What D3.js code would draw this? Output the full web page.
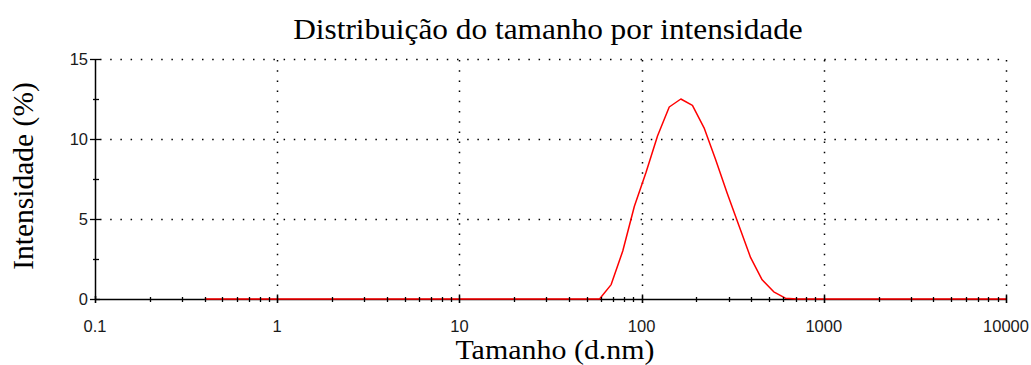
<!DOCTYPE html>
<html>
<head>
<meta charset="utf-8">
<script src="https://cdn.jsdelivr.net/npm/d3@7"></script>
<style>
  html, body { margin: 0; padding: 0; background: #fff; }
  svg { display: block; }
</style>
</head>
<body>
<svg id="chart" width="1031" height="365"></svg>
<script>
// Size classes (d.nm), 70 logarithmic bins from 0.4 to 10000
const sizes = [0.4, 0.4632, 0.5365, 0.6213, 0.7195, 0.8332, 0.9649, 1.117, 1.294, 1.499,
  1.736, 2.01, 2.328, 2.696, 3.122, 3.615, 4.187, 4.849, 5.615, 6.503,
  7.531, 8.721, 10.1, 11.7, 13.54, 15.69, 18.17, 21.04, 24.36, 28.21,
  32.67, 37.84, 43.82, 50.75, 58.77, 68.06, 78.82, 91.28, 105.7, 122.4,
  141.8, 164.2, 190.1, 220.2, 255.0, 295.3, 342.0, 396.1, 458.7, 531.2,
  615.1, 712.4, 825.0, 955.4, 1106, 1281, 1484, 1718, 1990, 2305,
  2669, 3091, 3580, 4145, 4801, 5560, 6439, 7456, 8635, 10000];

// Intensity (%) per size class
const intensity = [0, 0, 0, 0, 0, 0, 0, 0, 0, 0,
  0, 0, 0, 0, 0, 0, 0, 0, 0, 0,
  0, 0, 0, 0, 0, 0, 0, 0, 0, 0,
  0, 0, 0, 0, 0, 0.9, 3.0, 5.8, 7.9, 10.2,
  12.0, 12.5, 12.1, 10.7, 8.7, 6.6, 4.6, 2.6, 1.2, 0.45,
  0.05, 0, 0, 0, 0, 0, 0, 0, 0, 0,
  0, 0, 0, 0, 0, 0, 0, 0, 0, 0];

const xTicks = [0.1, 1, 10, 100, 1000, 10000];
const xTickLabels = ["0.1", "1", "10", "100", "1000", "10000"];
const yTicks = [0, 5, 10, 15];
const yMinorTicks = [2.5, 7.5, 12.5];

const chartTitle = "Distribuição do tamanho por intensidade";
const xTitle = "Tamanho (d.nm)";
const yTitle = "Intensidade (%)";

const svg = d3.select("#chart");
const plotLeft = 95, plotRight = 1006, plotTop = 59, plotBottom = 299;

const x = d3.scaleLog().domain([0.1, 10000]).range([plotLeft, plotRight]);
const y = d3.scaleLinear().domain([0, 15]).range([plotBottom, plotTop]);

// Minor log ticks (2..9 within each decade)
const xMinor = [];
for (let e = -1; e < 4; e++) {
  for (let m = 2; m <= 9; m++) xMinor.push(m * Math.pow(10, e));
}

const serif = "'Liberation Serif', 'Times New Roman', serif";
const sans = "'Liberation Sans', Arial, sans-serif";
const px = v => Math.round(v) + 0.5;

// Dotted grid
const grid = svg.append("g").attr("stroke", "#000").attr("stroke-width", 1.5)
  .attr("stroke-dasharray", "1.5,8.7").attr("fill", "none");
yTicks.filter(v => v > 0).forEach(v => {
  grid.append("line").attr("x1", plotLeft + 5).attr("x2", plotRight)
    .attr("y1", px(y(v))).attr("y2", px(y(v)));
});
xTicks.filter(v => v > 0.1).forEach(v => {
  grid.append("line").attr("x1", px(x(v))).attr("x2", px(x(v)))
    .attr("y1", plotTop + 1).attr("y2", plotBottom);
});

// Axis lines
svg.append("line").attr("x1", plotLeft + 0.5).attr("x2", plotLeft + 0.5)
  .attr("y1", plotTop).attr("y2", plotBottom + 1).attr("stroke", "#000").attr("stroke-width", 1.5);
svg.append("line").attr("x1", plotLeft).attr("x2", plotRight + 1)
  .attr("y1", plotBottom + 0.5).attr("y2", plotBottom + 0.5).attr("stroke", "#000").attr("stroke-width", 1.5);

// Distribution curve
const line = d3.line()
  .x((d, i) => x(sizes[i]))
  .y(d => y(d));
svg.append("path").datum(intensity)
  .attr("d", line)
  .attr("fill", "none")
  .attr("stroke", "#ff0000")
  .attr("stroke-width", 1.5)
  .attr("stroke-linejoin", "round");

// X axis ticks
const xt = svg.append("g").attr("stroke", "#000").attr("stroke-width", 1.3);
xMinor.forEach(v => {
  xt.append("line").attr("x1", px(x(v))).attr("x2", px(x(v)))
    .attr("y1", plotBottom - 2).attr("y2", plotBottom + 3);
});
xTicks.forEach(v => {
  xt.append("line").attr("x1", px(x(v))).attr("x2", px(x(v)))
    .attr("y1", plotBottom - 3).attr("y2", plotBottom + 4).attr("stroke-width", 1.6);
});

// Y axis ticks
const yt = svg.append("g").attr("stroke", "#000").attr("stroke-width", 1.3);
yTicks.forEach(v => {
  yt.append("line").attr("x1", plotLeft - 5).attr("x2", plotLeft + 5)
    .attr("y1", px(y(v))).attr("y2", px(y(v)));
});
yMinorTicks.forEach(v => {
  yt.append("line").attr("x1", plotLeft - 2).attr("x2", plotLeft + 4)
    .attr("y1", px(y(v))).attr("y2", px(y(v)));
});

// Tick labels
svg.append("g").selectAll("text").data(xTicks).join("text")
  .attr("x", d => x(d)).attr("y", 332)
  .attr("text-anchor", "middle")
  .attr("font-family", sans).attr("font-size", 16.5).attr("fill", "#1a1a1a")
  .text((d, i) => xTickLabels[i]);

svg.append("g").selectAll("text").data(yTicks).join("text")
  .attr("x", plotLeft - 7).attr("y", d => y(d) + 6)
  .attr("text-anchor", "end")
  .attr("font-family", sans).attr("font-size", 16.5).attr("fill", "#1a1a1a")
  .text(d => d);

// Titles
svg.append("text").attr("transform", "translate(548,39) scale(1.08,1)")
  .attr("text-anchor", "middle")
  .attr("font-family", serif).attr("font-size", 29).attr("fill", "#000")
  .text(chartTitle);
svg.append("text").attr("transform", "translate(555,359) scale(1.07,1)")
  .attr("text-anchor", "middle")
  .attr("font-family", serif).attr("font-size", 28).attr("fill", "#000")
  .text(xTitle);
svg.append("text").attr("transform", "translate(33,176) rotate(-90)")
  .attr("text-anchor", "middle")
  .attr("font-family", serif).attr("font-size", 29.5).attr("fill", "#000")
  .text(yTitle);
</script>
</body>
</html>
